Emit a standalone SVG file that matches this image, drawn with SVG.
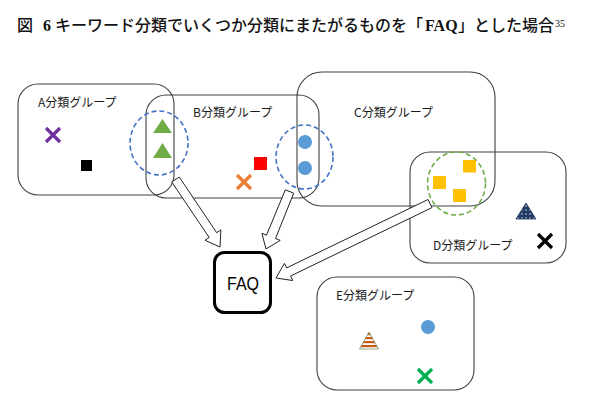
<svg xmlns="http://www.w3.org/2000/svg" width="598" height="407" viewBox="0 0 598 407">
<style>
.grp{fill:none;stroke:#404040;stroke-width:1.1}
.lbl{font-family:"Noto Sans CJK JP","Noto Sans",sans-serif;font-size:12px;fill:#1a1a1a}
.title{font-family:"Noto Sans CJK JP",sans-serif;font-size:16px;fill:#111;font-weight:500}
.lat{font-family:"Liberation Serif",serif;font-weight:bold}
.dash-b{fill:none;stroke:#4472C4;stroke-width:1.6;stroke-dasharray:5 3}
.dash-g{fill:none;stroke:#70AD47;stroke-width:1.6;stroke-dasharray:5 3}
.arrow{fill:#fff;stroke:#222;stroke-width:1}
.x{fill:none;stroke-width:3.2;stroke-linecap:butt}
</style>
<defs>
<pattern id="dots" width="4" height="4" patternUnits="userSpaceOnUse">
<rect width="4" height="4" fill="#1F3864"/>
<circle cx="2" cy="2" r="0.7" fill="#fff"/>
</pattern>
<pattern id="stripes" width="4" height="4" patternUnits="userSpaceOnUse" y="1">
<rect width="4" height="4" fill="#fff"/>
<rect width="4" height="2.2" fill="#C55A11"/>
</pattern>
</defs>
<rect width="598" height="407" fill="#fff"/>

<text class="title" y="31"><tspan x="17">図</tspan><tspan x="43" class="lat">6</tspan><tspan x="55">キーワード分類でいくつか分類にまたがるものを</tspan><tspan x="407">「</tspan><tspan x="425" class="lat">FAQ</tspan><tspan x="458">」</tspan><tspan x="474">とした場合</tspan><tspan x="555" y="27" style="font-family:'Liberation Serif',serif;font-size:10px;font-weight:normal">35</tspan></text>

<g id="groupA">
<rect class="grp" x="18" y="84" width="156" height="111" rx="20"/>
<text class="lbl" x="38" y="107">A分類グループ</text>
<path class="x" stroke="#7030A0" d="M46,128 L60,142 M60,128 L46,142"/>
<rect x="81" y="160" width="11" height="11" fill="#000"/>
</g>

<g id="groupB">
<rect class="grp" x="146" y="95" width="173" height="103" rx="20"/>
<text class="lbl" x="193" y="117">B分類グループ</text>
<rect x="254" y="157" width="13" height="13" fill="#FF0000"/>
<path class="x" stroke="#ED7D31" d="M237,175 L251,189 M251,175 L237,189"/>
</g>

<g id="groupC">
<rect class="grp" x="297" y="72" width="198" height="134" rx="25"/>
<text class="lbl" x="354" y="117">C分類グループ</text>
</g>

<g id="groupD">
<rect class="grp" x="410" y="152" width="156" height="111" rx="20"/>
<text class="lbl" x="433" y="250">D分類グループ</text>
<polygon points="526,203 516,219 536,219" fill="url(#dots)" stroke="#1F3864" stroke-width="0.8"/>
<path class="x" stroke="#000" d="M538,234 L552,248 M552,234 L538,248"/>
</g>

<g id="groupE">
<rect class="grp" x="317" y="277" width="157" height="113" rx="20"/>
<text class="lbl" x="336" y="300">E分類グループ</text>
<circle cx="428" cy="327" r="7" fill="#5B9BD5"/>
<polygon points="369,332 359.5,349 378.5,349" fill="url(#stripes)" stroke="#7F8F60" stroke-width="0.8"/>
<path class="x" stroke="#00B050" d="M418,369 L432,383 M432,369 L418,383"/>
</g>

<g id="overlapAB">
<ellipse class="dash-b" cx="159" cy="143" rx="29" ry="32"/>
<polygon points="162.5,119 153,133 172,133" fill="#70AD47"/>
<polygon points="162.5,143 153,158 172,158" fill="#70AD47"/>
</g>

<g id="overlapBC">
<ellipse class="dash-b" cx="304.5" cy="157" rx="28.5" ry="32"/>
<circle cx="305" cy="142" r="7" fill="#5B9BD5"/>
<circle cx="305" cy="168" r="7" fill="#5B9BD5"/>
</g>

<g id="overlapCD">
<ellipse class="dash-g" cx="456.5" cy="183.5" rx="29" ry="31.5"/>
<rect x="463" y="160" width="13" height="12.5" fill="#FFC000"/>
<rect x="433" y="176" width="13" height="13" fill="#FFC000"/>
<rect x="453" y="189" width="13" height="13" fill="#FFC000"/>
</g>

<g id="connectors">
<polygon class="arrow" points="171.7,181.9 209.2,237.5 205,240.3 220,247 220.9,229.9 216.7,232.7 179.3,177.1"/>
<polygon class="arrow" points="285.3,189.8 266.5,235.2 261.9,233.3 266,249 280.2,240.4 275.5,238.5 293.7,193.2"/>
<polygon class="arrow" points="428,199.5 286.6,267.9 284.4,263.4 276,278 292.7,280.5 290.6,276 432,207.6"/>
</g>

<g id="faq">
<rect x="214.5" y="252.5" width="56" height="60" rx="10" fill="#fff" stroke="#000" stroke-width="3"/>
<text x="243" y="290" text-anchor="middle" font-family="Liberation Sans, sans-serif" font-size="19" textLength="32" lengthAdjust="spacingAndGlyphs">FAQ</text>
</g>
</svg>
